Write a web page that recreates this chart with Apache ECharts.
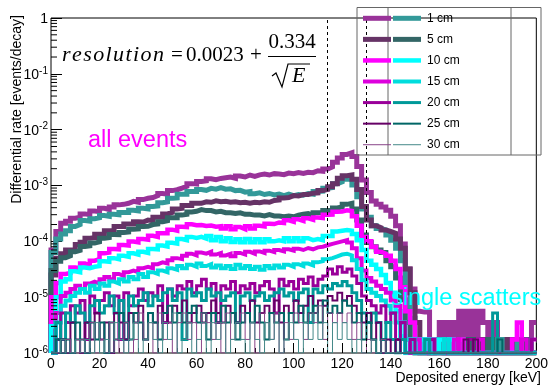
<!DOCTYPE html>
<html><head><meta charset="utf-8">
<script src="https://cdn.jsdelivr.net/npm/echarts@6/dist/echarts.min.js"></script>
<style>html,body{margin:0;padding:0;background:#fff}#c{width:551px;height:385px}</style>
</head><body><div id="c"></div>
<script>
// ---- data (2 keV bins starting at 0 keV) ----
const Z = 1e-6; // empty bin: drawn on the axis floor, as ROOT does on a log scale
const binWidth = 2;
const distances = ['1 cm','5 cm','10 cm','15 cm','20 cm','25 cm','30 cm'];
const xTickLabels = [0,20,40,60,80,100,120,140,160,180,200];
const windowEdges = [114,130];

const all1 = [7.0e-5,1.5e-4,2.1e-4,2.3e-4,2.6e-4,2.7e-4,3.1e-4,3.0e-4,3.5e-4,3.4e-4,
3.9e-4,3.7e-4,4.1e-4,4.5e-4,4.6e-4,4.8e-4,5.2e-4,5.0e-4,5.6e-4,5.9e-4,
6.1e-4,6.6e-4,7.2e-4,7.0e-4,8.1e-4,8.4e-4,9.0e-4,9.7e-4,1.08e-3,1.06e-3,
1.18e-3,1.21e-3,1.32e-3,1.27e-3,1.34e-3,1.38e-3,1.42e-3,1.35e-3,1.48e-3,1.42e-3,
1.54e-3,1.46e-3,1.55e-3,1.60e-3,1.54e-3,1.63e-3,1.60e-3,1.56e-3,1.67e-3,1.62e-3,
1.70e-3,1.64e-3,1.72e-3,1.70e-3,1.84e-3,1.80e-3,1.98e-3,2.15e-3,2.6e-3,3.1e-3,
3.6e-3,3.85e-3,3.3e-3,2.2e-3,1.25e-3,7.5e-4,5.3e-4,4.6e-4,4.1e-4,3.6e-4,
2.8e-4,1.9e-4,9.0e-5,3.2e-5,1.4e-5,5.6e-6,5.4e-6,5.4e-6,Z,1.75e-6,
3.5e-6,Z,3.5e-6,Z,5.6e-6,Z,5.6e-6,Z,5.6e-6,3.5e-6,
Z,3.5e-6,Z,1.75e-6,Z,1.75e-6,Z,Z,1.75e-6,3.5e-6];

const single1 = [6.3e-5,1.1e-4,1.35e-4,1.55e-4,1.85e-4,2.0e-4,2.35e-4,2.3e-4,2.55e-4,2.65e-4,
2.9e-4,2.8e-4,3.05e-4,3.0e-4,3.3e-4,3.3e-4,3.6e-4,3.5e-4,3.9e-4,3.8e-4,
4.2e-4,4.3e-4,4.9e-4,5.1e-4,5.9e-4,6.0e-4,7.0e-4,7.0e-4,7.8e-4,7.8e-4,
8.5e-4,8.2e-4,8.9e-4,8.6e-4,9.2e-4,8.6e-4,8.7e-4,8.1e-4,8.2e-4,7.6e-4,
7.8e-4,7.1e-4,7.4e-4,6.9e-4,7.2e-4,6.8e-4,7.0e-4,6.6e-4,7.0e-4,6.6e-4,
6.9e-4,6.7e-4,7.2e-4,7.0e-4,7.8e-4,7.9e-4,8.9e-4,9.2e-4,1.07e-3,1.16e-3,
1.29e-3,1.29e-3,1.02e-3,6.3e-4,3.8e-4,2.7e-4,1.9e-4,1.7e-4,1.6e-4,1.3e-4,
1.05e-4,7.5e-5,4.5e-5,1.2e-5,4.2e-6,Z,1.75e-6,Z,Z,1.75e-6,
Z,1.75e-6,Z,Z,Z,1.75e-6,Z,Z,1.75e-6,Z,
Z,Z,1.75e-6,Z,Z,Z,1.75e-6,Z,Z,Z];

const all5 = [2.5e-5,5.0e-5,6.0e-5,7.0e-5,7.2e-5,8.8e-5,9.6e-5,1.14e-4,1.16e-4,1.34e-4,
1.36e-4,1.55e-4,1.55e-4,1.85e-4,1.84e-4,2.05e-4,2.04e-4,2.25e-4,2.22e-4,2.4e-4,
2.35e-4,2.7e-4,2.7e-4,3.1e-4,3.3e-4,3.8e-4,3.9e-4,4.4e-4,4.4e-4,4.8e-4,
4.8e-4,5.1e-4,5.0e-4,5.3e-4,5.1e-4,5.2e-4,5.0e-4,5.1e-4,4.9e-4,5.0e-4,
4.8e-4,5.0e-4,4.9e-4,5.1e-4,5.0e-4,5.4e-4,5.5e-4,6.0e-4,6.1e-4,6.6e-4,
6.5e-4,6.9e-4,6.9e-4,7.3e-4,7.4e-4,8.1e-4,8.5e-4,9.5e-4,1.08e-3,1.35e-3,
1.5e-3,1.55e-3,1.3e-3,8.5e-4,4.2e-4,2.4e-4,1.9e-4,1.75e-4,1.6e-4,1.5e-4,
1.4e-4,1.1e-4,7.5e-5,3.2e-5,1.2e-5,3.5e-6,Z,1.75e-6,Z,Z,
1.75e-6,Z,Z,1.75e-6,Z,Z,Z,1.75e-6,Z,1.75e-6,
Z,Z,Z,Z,1.75e-6,Z,Z,1.75e-6,Z,Z];

const single5 = [3.0e-5,4.4e-5,5.1e-5,5.5e-5,6.5e-5,6.9e-5,8.1e-5,8.3e-5,9.3e-5,9.8e-5,
1.13e-4,1.17e-4,1.33e-4,1.32e-4,1.44e-4,1.47e-4,1.64e-4,1.67e-4,1.84e-4,1.86e-4,
2.0e-4,2.05e-4,2.25e-4,2.35e-4,2.65e-4,2.65e-4,2.95e-4,3.05e-4,3.35e-4,3.45e-4,
3.7e-4,3.55e-4,3.55e-4,3.35e-4,3.45e-4,3.25e-4,3.25e-4,3.15e-4,3.25e-4,3.05e-4,
3.05e-4,2.95e-4,2.95e-4,2.85e-4,3.0e-4,2.85e-4,2.85e-4,2.75e-4,2.85e-4,2.75e-4,
2.95e-4,3.05e-4,3.15e-4,2.95e-4,3.25e-4,3.25e-4,3.55e-4,3.55e-4,3.95e-4,4.15e-4,
4.6e-4,4.8e-4,3.8e-4,2.4e-4,1.3e-4,9.5e-5,8.0e-5,7.0e-5,6.3e-5,4.5e-5,
3.5e-5,2.2e-5,9.0e-6,3.5e-6,1.75e-6,Z,Z,1.75e-6,Z,Z,
Z,1.75e-6,Z,Z,Z,Z,1.75e-6,Z,Z,Z,
1.75e-6,Z,Z,Z,Z,Z,Z,Z,1.75e-6,Z];

const all10 = [1.0e-5,1.8e-5,2.6e-5,2.7e-5,3.4e-5,3.3e-5,4.0e-5,3.7e-5,4.5e-5,4.8e-5,
6.1e-5,6.3e-5,7.3e-5,7.2e-5,8.6e-5,8.4e-5,9.9e-5,9.6e-5,1.1e-4,1.07e-4,
1.26e-4,1.2e-4,1.4e-4,1.4e-4,1.62e-4,1.55e-4,1.82e-4,1.8e-4,2.02e-4,1.95e-4,
1.96e-4,1.88e-4,1.92e-4,1.83e-4,1.86e-4,1.7e-4,1.86e-4,1.65e-4,1.8e-4,1.66e-4,
1.86e-4,1.7e-4,1.9e-4,1.85e-4,2.06e-4,2.04e-4,2.18e-4,2.13e-4,2.38e-4,2.24e-4,
2.48e-4,2.33e-4,2.58e-4,2.44e-4,2.68e-4,2.62e-4,2.98e-4,3.02e-4,3.4e-4,3.42e-4,
3.6e-4,3.5e-4,2.8e-4,1.9e-4,1.2e-4,1.0e-4,8.0e-5,6.5e-5,6.0e-5,5.5e-5,
4.5e-5,3.2e-5,1.5e-5,5.6e-6,3.5e-6,1.75e-6,Z,1.75e-6,Z,Z,
Z,Z,1.75e-6,Z,1.75e-6,Z,Z,Z,Z,Z,
Z,Z,Z,Z,Z,1.75e-6,3.5e-6,Z,Z,Z];

const single10 = [3.0e-6,1.0e-5,1.9e-5,2.1e-5,2.9e-5,2.8e-5,3.4e-5,3.3e-5,3.5e-5,3.6e-5,
4.4e-5,4.3e-5,5.0e-5,4.8e-5,5.5e-5,5.3e-5,6.1e-5,5.8e-5,6.5e-5,6.2e-5,
7.3e-5,7.2e-5,8.4e-5,8.1e-5,9.4e-5,9.1e-5,1.1e-4,1.05e-4,1.2e-4,1.15e-4,
1.2e-4,1.12e-4,1.24e-4,1.05e-4,1.19e-4,1.0e-4,1.14e-4,9.7e-5,1.09e-4,9.6e-5,
1.1e-4,9.6e-5,1.09e-4,9.6e-5,1.09e-4,1.0e-4,1.04e-4,1.0e-4,1.14e-4,1.0e-4,
1.14e-4,1.0e-4,1.14e-4,1.05e-4,1.1e-4,1.05e-4,1.25e-4,1.25e-4,1.5e-4,1.55e-4,
1.6e-4,1.55e-4,1.35e-4,1.05e-4,7.0e-5,4.5e-5,3.8e-5,3.2e-5,2.5e-5,1.8e-5,
1.2e-5,5.6e-6,2.0e-6,Z,1.75e-6,Z,1.75e-6,Z,1.75e-6,Z,
1.75e-6,Z,1.75e-6,Z,Z,Z,Z,Z,Z,Z,
Z,Z,Z,Z,Z,Z,Z,Z,Z,Z];

const all15 = [Z,5.2e-6,1.05e-5,1.2e-5,1.4e-5,1.6e-5,1.4e-5,1.75e-5,1.9e-5,1.75e-5,
2.1e-5,2.3e-5,2.1e-5,2.6e-5,2.4e-5,2.8e-5,3.0e-5,2.8e-5,3.3e-5,3.5e-5,
3.3e-5,3.9e-5,4.2e-5,4.0e-5,4.6e-5,5.0e-5,4.8e-5,5.5e-5,6.0e-5,5.6e-5,
6.3e-5,6.0e-5,6.5e-5,5.8e-5,6.2e-5,5.6e-5,6.0e-5,5.4e-5,6.2e-5,5.8e-5,
6.5e-5,6.0e-5,6.6e-5,6.2e-5,6.8e-5,6.4e-5,7.0e-5,6.6e-5,7.2e-5,6.8e-5,
7.4e-5,7.0e-5,7.6e-5,7.2e-5,7.8e-5,8.0e-5,8.5e-5,9.0e-5,9.5e-5,1.0e-4,
1.05e-4,9.5e-5,7.5e-5,5.0e-5,3.0e-5,2.2e-5,1.9e-5,1.6e-5,1.4e-5,1.2e-5,
8.7e-6,7.0e-6,3.5e-6,1.75e-6,Z,1.75e-6,Z,Z,1.75e-6,Z,
Z,Z,Z,1.75e-6,Z,Z,Z,Z,1.75e-6,Z,
Z,Z,Z,Z,Z,Z,Z,1.75e-6,Z,1.75e-6];

const single15 = [Z,3.5e-6,7.0e-6,8.7e-6,1.05e-5,1.2e-5,1.4e-5,1.2e-5,1.6e-5,1.4e-5,
1.75e-5,1.6e-5,1.9e-5,1.75e-5,2.1e-5,1.9e-5,2.3e-5,2.1e-5,2.6e-5,2.3e-5,
2.8e-5,2.6e-5,3.0e-5,2.8e-5,3.3e-5,3.1e-5,3.6e-5,3.3e-5,3.8e-5,3.5e-5,
4.0e-5,3.6e-5,3.9e-5,3.4e-5,3.7e-5,3.3e-5,3.6e-5,3.2e-5,3.8e-5,3.3e-5,
3.6e-5,3.2e-5,3.5e-5,3.1e-5,3.6e-5,3.3e-5,3.7e-5,3.4e-5,3.8e-5,3.5e-5,
3.9e-5,3.6e-5,4.0e-5,3.7e-5,4.2e-5,4.4e-5,4.8e-5,5.0e-5,5.4e-5,5.8e-5,
6.0e-5,5.6e-5,4.6e-5,3.2e-5,2.0e-5,1.4e-5,1.2e-5,1.05e-5,8.7e-6,7.0e-6,
5.2e-6,3.5e-6,3.5e-6,1.75e-6,1.75e-6,Z,Z,1.75e-6,Z,Z,
Z,1.75e-6,Z,Z,Z,Z,Z,Z,Z,Z,
Z,Z,Z,Z,Z,Z,Z,Z,Z,Z];

const all20 = [Z,1.75e-6,5.2e-6,3.5e-6,7.0e-6,5.2e-6,8.7e-6,1.75e-6,1.05e-5,5.2e-6,
8.7e-6,1.2e-5,7.0e-6,1.05e-5,1.75e-6,1.2e-5,7.0e-6,1.05e-5,1.4e-5,8.7e-6,
1.2e-5,1.05e-5,1.6e-5,3.5e-6,1.4e-5,1.05e-5,1.6e-5,1.4e-5,1.9e-5,1.2e-5,
1.6e-5,2.1e-5,1.4e-5,1.75e-5,3.5e-6,1.6e-5,1.4e-5,1.9e-5,1.2e-5,1.6e-5,
1.4e-5,1.75e-5,1.2e-5,1.6e-5,1.9e-5,1.4e-5,5.2e-6,2.1e-5,1.6e-5,1.9e-5,
1.4e-5,2.1e-5,1.75e-5,2.3e-5,1.6e-5,2.1e-5,2.4e-5,3.2e-5,2.6e-5,3.5e-5,
2.8e-5,3.2e-5,2.4e-5,1.75e-5,1.05e-5,8.7e-6,7.0e-6,5.2e-6,7.0e-6,3.5e-6,
5.2e-6,1.75e-6,3.5e-6,Z,1.75e-6,Z,Z,Z,1.75e-6,Z,
Z,Z,Z,Z,Z,Z,1.75e-6,Z,Z,Z,
Z,Z,Z,Z,Z,Z,Z,Z,Z,1.75e-6];

const single20 = [Z,3.5e-6,1.75e-6,5.2e-6,3.5e-6,7.0e-6,5.2e-6,3.5e-6,7.0e-6,8.7e-6,
5.2e-6,7.0e-6,1.05e-5,5.2e-6,8.7e-6,1.75e-6,1.05e-5,7.0e-6,8.7e-6,1.2e-5,
7.0e-6,1.05e-5,8.7e-6,1.2e-5,1.4e-5,8.7e-6,1.2e-5,1.75e-6,1.4e-5,1.05e-5,
1.2e-5,8.7e-6,1.4e-5,1.05e-5,1.2e-5,8.7e-6,1.05e-5,1.2e-5,3.5e-6,1.05e-5,
1.2e-5,8.7e-6,1.05e-5,1.2e-5,8.7e-6,1.05e-5,1.2e-5,1.4e-5,1.05e-5,1.2e-5,
8.7e-6,1.2e-5,1.4e-5,3.5e-6,1.4e-5,1.2e-5,1.6e-5,1.4e-5,1.75e-5,1.6e-5,
1.9e-5,1.6e-5,1.2e-5,8.7e-6,5.2e-6,3.5e-6,5.2e-6,3.5e-6,1.75e-6,3.5e-6,
1.75e-6,Z,1.75e-6,Z,Z,Z,Z,1.75e-6,Z,Z,
Z,Z,Z,Z,Z,Z,Z,Z,Z,Z,
Z,5.2e-6,Z,Z,Z,Z,Z,Z,Z,Z];

const all25 = [Z,Z,1.75e-6,Z,3.5e-6,1.75e-6,Z,3.5e-6,1.75e-6,5.2e-6,
1.75e-6,3.5e-6,Z,5.2e-6,3.5e-6,1.75e-6,5.2e-6,3.5e-6,7.0e-6,1.75e-6,
5.2e-6,3.5e-6,7.0e-6,5.2e-6,3.5e-6,7.0e-6,5.2e-6,8.7e-6,3.5e-6,5.2e-6,
7.0e-6,3.5e-6,5.2e-6,8.7e-6,5.2e-6,3.5e-6,7.0e-6,5.2e-6,3.5e-6,7.0e-6,
5.2e-6,8.7e-6,3.5e-6,5.2e-6,7.0e-6,5.2e-6,8.7e-6,3.5e-6,7.0e-6,5.2e-6,
8.7e-6,5.2e-6,7.0e-6,1.05e-5,5.2e-6,8.7e-6,7.0e-6,1.05e-5,8.7e-6,1.2e-5,
8.7e-6,1.05e-5,7.0e-6,5.2e-6,3.5e-6,5.2e-6,1.75e-6,3.5e-6,Z,1.75e-6,
Z,1.75e-6,Z,Z,Z,Z,Z,Z,Z,Z,
Z,Z,Z,Z,Z,1.75e-6,Z,1.75e-6,Z,Z,
Z,Z,Z,Z,Z,Z,Z,Z,Z,Z];

const single25 = [Z,1.75e-6,Z,1.75e-6,Z,3.5e-6,1.75e-6,Z,3.5e-6,1.75e-6,
3.5e-6,Z,3.5e-6,1.75e-6,5.2e-6,3.5e-6,1.75e-6,5.2e-6,3.5e-6,1.75e-6,
5.2e-6,3.5e-6,1.75e-6,5.2e-6,7.0e-6,3.5e-6,5.2e-6,3.5e-6,5.2e-6,7.0e-6,
3.5e-6,5.2e-6,1.75e-6,5.2e-6,3.5e-6,7.0e-6,3.5e-6,5.2e-6,1.75e-6,3.5e-6,
5.2e-6,3.5e-6,7.0e-6,3.5e-6,1.75e-6,5.2e-6,3.5e-6,5.2e-6,1.75e-6,5.2e-6,
3.5e-6,7.0e-6,3.5e-6,5.2e-6,7.0e-6,3.5e-6,8.7e-6,5.2e-6,7.0e-6,5.2e-6,
8.7e-6,7.0e-6,3.5e-6,5.2e-6,1.75e-6,3.5e-6,1.75e-6,Z,1.75e-6,Z,
Z,Z,Z,Z,Z,Z,Z,Z,Z,Z,
Z,Z,Z,Z,Z,Z,Z,Z,Z,Z,
Z,Z,1.75e-6,Z,Z,Z,Z,Z,Z,Z];

const all30 = [Z,Z,Z,1.75e-6,Z,Z,1.75e-6,Z,3.5e-6,Z,
1.75e-6,Z,3.5e-6,1.75e-6,Z,3.5e-6,Z,1.75e-6,5.2e-6,1.75e-6,
3.5e-6,Z,5.2e-6,1.75e-6,3.5e-6,Z,3.5e-6,5.2e-6,1.75e-6,3.5e-6,
Z,5.2e-6,3.5e-6,1.75e-6,3.5e-6,Z,5.2e-6,1.75e-6,3.5e-6,5.2e-6,
1.75e-6,3.5e-6,Z,5.2e-6,3.5e-6,1.75e-6,5.2e-6,Z,3.5e-6,1.75e-6,
5.2e-6,3.5e-6,1.75e-6,5.2e-6,3.5e-6,7.0e-6,1.75e-6,5.2e-6,3.5e-6,5.2e-6,
3.5e-6,5.2e-6,1.75e-6,3.5e-6,Z,1.75e-6,Z,Z,1.75e-6,Z,
Z,Z,Z,Z,Z,Z,Z,Z,Z,Z,
Z,Z,Z,Z,Z,Z,Z,Z,Z,Z,
Z,Z,Z,Z,Z,Z,Z,Z,Z,Z];

const single30 = [Z,Z,1.75e-6,Z,Z,1.75e-6,Z,1.75e-6,Z,3.5e-6,
Z,1.75e-6,Z,3.5e-6,1.75e-6,Z,1.75e-6,3.5e-6,Z,1.75e-6,
3.5e-6,1.75e-6,Z,3.5e-6,1.75e-6,5.2e-6,Z,1.75e-6,3.5e-6,Z,
1.75e-6,3.5e-6,Z,3.5e-6,1.75e-6,3.5e-6,Z,1.75e-6,3.5e-6,1.75e-6,
Z,3.5e-6,1.75e-6,Z,3.5e-6,1.75e-6,3.5e-6,Z,1.75e-6,3.5e-6,
1.75e-6,Z,3.5e-6,1.75e-6,5.2e-6,1.75e-6,3.5e-6,Z,3.5e-6,1.75e-6,
3.5e-6,1.75e-6,Z,1.75e-6,Z,Z,1.75e-6,Z,Z,Z,
Z,Z,Z,Z,Z,Z,Z,Z,Z,Z,
Z,Z,Z,Z,Z,Z,Z,Z,Z,Z,
Z,Z,Z,Z,Z,Z,Z,Z,Z,Z];

const allEvents = [all1, all5, all10, all15, all20, all25, all30];
const singleScatters = [single1, single5, single10, single15, single20, single25, single30];

// ---- styles ----
const colorsAll = ['#993399','#663366','#ff00ff','#dd00dd','#990099','#660066','#884488'];
const colorsSingle = ['#339999','#336666','#00ffff','#00dddd','#009999','#006666','#448888'];
const widths = [5,5,4.5,4,3,2,1];
const SANS = 'Liberation Sans', SERIF = 'Liberation Serif';

function hist(vals){
  const d = [[0, Z]];
  vals.forEach((v, i) => d.push([i * binWidth, v]));
  d.push([vals.length * binWidth, vals[vals.length - 1]]);
  return d;
}

const series = [];
for (let i = 0; i < distances.length; i++) {
  [[allEvents[i], colorsAll[i], 'all'], [singleScatters[i], colorsSingle[i], 'single']].forEach(([vals, col, kind]) => {
    series.push({
      name: distances[i] + ' ' + kind, type: 'line', step: 'end', data: hist(vals),
      showSymbol: false, symbol: 'none', clip: true, silent: true,
      lineStyle: {color: col, width: widths[i], join: 'miter', cap: 'butt'},
      z: 2
    });
  });
}
// resolution window (dashed lines)
series[0].markLine = {
  silent: true, symbol: ['none','none'], label: {show: false}, animation: false,
  lineStyle: {color: '#000', type: [3,3], width: 1},
  data: windowEdges.map(e => ({xAxis: e}))
};
// log minor ticks (2..9 per decade) on the y axis
const minorY = [];
for (let k = -6; k < 0; k++) for (let m = 2; m <= 9; m++) minorY.push([0, m * Math.pow(10, k)]);
series.push({
  type: 'custom', silent: true, z: 5, data: minorY,
  renderItem: (p, api) => {
    const c = api.coord([0, api.value(1)]);
    return {type: 'line', shape: {x1: c[0], y1: c[1], x2: c[0] + 6, y2: c[1]}, style: {stroke: '#000', lineWidth: 1}};
  }
});

// ---- graphic: legend, formula, annotations ----
const graphic = [];
graphic.push({type: 'text', x: 17, y: 15, rotation: Math.PI / 2, z: 10,
  style: {text: 'Differential rate [events/decay]', font: '14px ' + SANS, fill: '#000', align: 'right', verticalAlign: 'middle'}});
graphic.push({type: 'text', x: 541, y: 378, z: 10,
  style: {text: 'Deposited energy [keV]', font: '14px ' + SANS, fill: '#000', align: 'right', verticalAlign: 'middle'}});
graphic.push({type: 'text', x: 88, y: 141, z: 10,
  style: {text: 'all events', font: '23.5px ' + SANS, fill: '#ff00ff', align: 'left', verticalAlign: 'middle'}});
graphic.push({type: 'text', x: 391, y: 299, z: 10,
  style: {text: 'single scatters', font: '23.5px ' + SANS, fill: '#00ffff', align: 'left', verticalAlign: 'middle'}});

// legend box
const LX0 = 357, LX1 = 541, LY0 = 7.5, LY1 = 155;
graphic.push({type: 'rect', shape: {x: LX0, y: LY0, width: LX1 - LX0, height: LY1 - LY0}, z: 8,
  style: {fill: 'none', stroke: '#666', lineWidth: 1}});
[388, 511].forEach(x => graphic.push({type: 'line', z: 8, shape: {x1: x, y1: LY0, x2: x, y2: LY1}, style: {stroke: '#666', lineWidth: 1}}));
distances.forEach((d, i) => {
  const y = 18.3 + i * 21.07;
  graphic.push({type: 'line', z: 9, shape: {x1: 363, y1: y, x2: 391, y2: y}, style: {stroke: colorsAll[i], lineWidth: widths[i]}});
  graphic.push({type: 'line', z: 9, shape: {x1: 393, y1: y, x2: 421, y2: y}, style: {stroke: colorsSingle[i], lineWidth: widths[i]}});
  graphic.push({type: 'text', x: 427, y: y, z: 9, style: {text: d, font: '12px ' + SANS, fill: '#000', align: 'left', verticalAlign: 'middle'}});
});

// formula: resolution = 0.0023 + 0.334 / sqrt(E)
(function(){
  const ctx = document.createElement('canvas').getContext('2d');
  const fi = 'italic 22px ' + SERIF, fr = '21px ' + SERIF;
  ctx.font = fi;
  const word = 'resolution';
  let w = 0; const ws = [];
  for (const ch of word) { const m = ctx.measureText(ch).width; ws.push(m); w += m; }
  const x0 = 62, x1 = 164, gap = (x1 - x0 - w) / (word.length - 1);
  let x = x0;
  const yc = 55.1;
  [...word].forEach((ch, i) => {
    graphic.push({type: 'text', x: x, y: yc, z: 10, style: {text: ch, font: fi, fill: '#000', align: 'left', verticalAlign: 'middle'}});
    x += ws[i] + gap;
  });
  graphic.push({type: 'text', x: 171, y: yc, z: 10, style: {text: '=', font: fr, fill: '#000', align: 'left', verticalAlign: 'middle'}});
  graphic.push({type: 'text', x: 186, y: yc, z: 10, style: {text: '0.0023', font: fr, fill: '#000', align: 'left', verticalAlign: 'middle'}});
  graphic.push({type: 'text', x: 250, y: yc, z: 10, style: {text: '+', font: fr, fill: '#000', align: 'left', verticalAlign: 'middle'}});
  graphic.push({type: 'text', x: 292, y: 42.5, z: 10, style: {text: '0.334', font: fr, fill: '#000', align: 'center', verticalAlign: 'middle'}});
  graphic.push({type: 'line', z: 10, shape: {x1: 268, y1: 56.5, x2: 316, y2: 56.5}, style: {stroke: '#000', lineWidth: 1.2}});
  graphic.push({type: 'polyline', z: 10, shape: {points: [[272, 76], [276, 73], [282, 87], [288, 64], [310, 64]]}, style: {stroke: '#000', lineWidth: 1.2, fill: 'none'}});
  graphic.push({type: 'text', x: 292, y: 76, z: 10, style: {text: 'E', font: fi, fill: '#000', align: 'left', verticalAlign: 'middle'}});
})();

const chart = echarts.init(document.getElementById('c'), null, {renderer: 'canvas'});
chart.setOption({
  animation: false,
  backgroundColor: '#fff',
  grid: {left: 51, right: 10, top: 18, bottom: 32, show: true, borderColor: '#000', borderWidth: 1, containLabel: false},
  xAxis: {
    type: 'value', min: 0, max: 200, interval: 20,
    axisLine: {show: false}, splitLine: {show: false},
    axisTick: {show: true, inside: true, length: 10, lineStyle: {color: '#000'}},
    minorTick: {show: true, splitNumber: 5, length: 5, lineStyle: {color: '#000'}},
    axisLabel: {margin: 4, fontSize: 14, fontFamily: SANS, color: '#000',
      formatter: v => xTickLabels.includes(v) ? String(v) : ''}
  },
  yAxis: {
    type: 'log', logBase: 10, min: 1e-6, max: 1,
    axisLine: {show: false}, splitLine: {show: false},
    axisTick: {show: true, inside: true, length: 11, lineStyle: {color: '#000'}},
    axisLabel: {margin: 3, fontFamily: SANS, color: '#000',
      formatter: v => {
        const e = Math.round(Math.log10(v));
        return e === 0 ? '{b|1}' : '{b|10}{s|' + e + '}';
      },
      rich: {
        b: {fontSize: 14, fontFamily: SANS, color: '#000', lineHeight: 16, verticalAlign: 'bottom'},
        s: {fontSize: 10, fontFamily: SANS, color: '#000', lineHeight: 16, verticalAlign: 'top', padding: [0, 0, 6, 0]}
      }
    }
  },
  series: series,
  graphic: graphic
});
</script></body></html>
